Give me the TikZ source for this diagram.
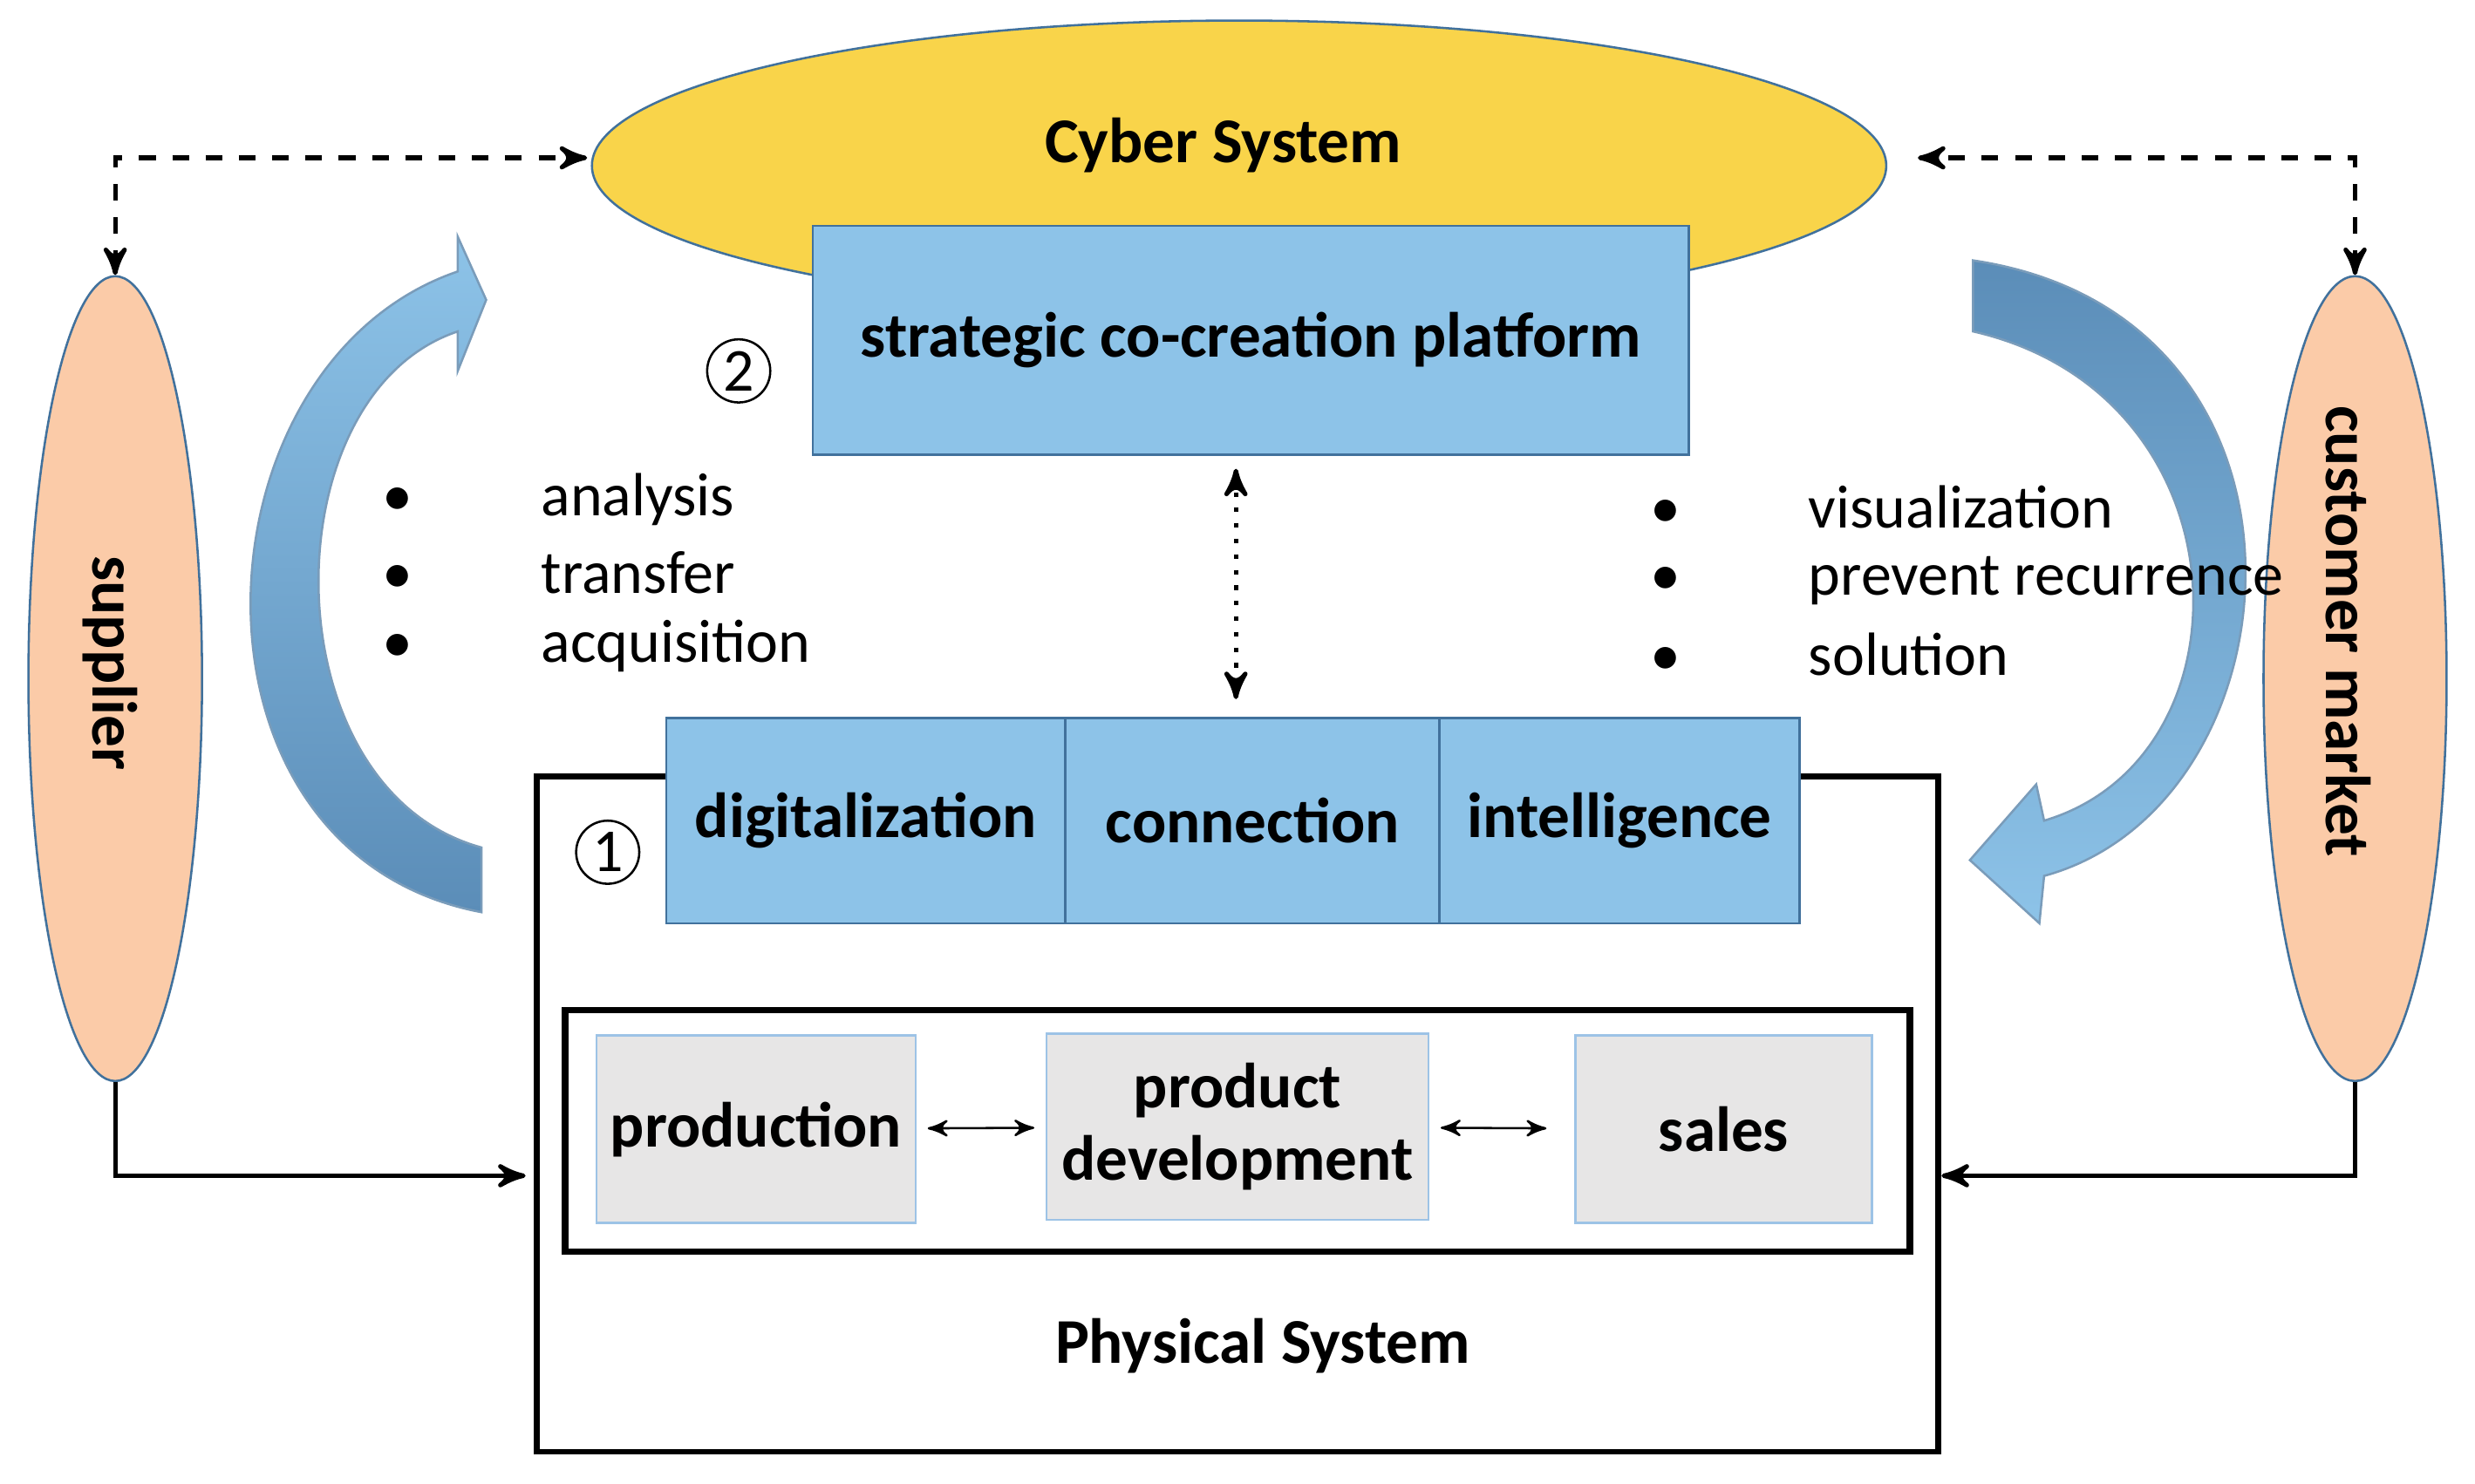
\documentclass[tikz,border=0pt]{standalone}
\usepackage{fontspec}
\setmainfont{Carlito}
\usetikzlibrary{arrows,shapes.geometric}
\definecolor{cyberyellow}{HTML}{F9D44A}
\definecolor{boxblue}{HTML}{8DC3E8}
\definecolor{edgeblue}{HTML}{41719C}
\definecolor{peach}{HTML}{FBCBA8}
\definecolor{greybox}{HTML}{E7E6E6}
\definecolor{lightedge}{HTML}{9DC3E6}
\definecolor{arrowdark}{HTML}{5B8DB8}
\begin{document}
\begin{tikzpicture}[x=1cm,y=1cm,>=stealth',
  big label/.style={font=\fontsize{11.5}{13}\selectfont\bfseries},
  blue box/.style={draw=edgeblue,fill=boxblue,big label,inner sep=0pt},
  grey box/.style={draw=lightedge,fill=greybox,big label,inner sep=0pt,align=center},
  side node/.style={ellipse,draw=edgeblue,fill=peach,inner sep=0pt},
  bullet item/.style={font=\fontsize{11}{13}\selectfont,anchor=west},
  step mark/.style={circle,draw,thin,inner sep=0pt,minimum size=0.40cm,font=\fontsize{11}{12}\selectfont},
  big arrow/.style={draw=edgeblue!70,line width=0.4pt}]
  \useasboundingbox (0,0) rectangle (15.68,-9.40);

  % big curved arrows
  \shade[big arrow,top color=boxblue,bottom color=arrowdark]
    (3.05,-5.78) .. controls (1.05,-5.40) and (1.20,-2.30) .. (2.90,-1.72)
    -- (2.90,-1.50) -- (3.08,-1.90) -- (2.90,-2.35) -- (2.90,-2.10)
    .. controls (1.70,-2.50) and (1.70,-5.00) .. (3.05,-5.37) -- cycle;
  \shade[big arrow,top color=arrowdark,bottom color=boxblue]
    (12.50,-1.65) .. controls (14.85,-2.00) and (14.60,-5.10) .. (12.95,-5.55)
    -- (12.92,-5.85) -- (12.48,-5.45) -- (12.90,-4.97) -- (12.95,-5.20)
    .. controls (14.30,-4.80) and (14.25,-2.50) .. (12.50,-2.10) -- cycle;

  % cyber system
  \node[ellipse,draw=edgeblue,fill=cyberyellow,minimum width=8.2cm,minimum height=1.84cm] (cyber) at (7.85,-1.05) {};
  \node[big label] (cybertext) at (7.75,-0.92) {Cyber System};
  \node[blue box,minimum width=5.55cm,minimum height=1.45cm] (platform) at (7.925,-2.155) {strategic co-creation platform};
  \node[step mark] (two) at (4.68,-2.35) {2};

  % side actors
  \node[side node,minimum width=1.10cm,minimum height=5.10cm] (supplier) at (0.73,-4.30) {};
  \node[big label,rotate=-90] at (0.70,-4.20) {supplier};
  \node[side node,minimum width=1.16cm,minimum height=5.10cm] (market) at (14.92,-4.30) {};
  \node[big label,rotate=-90] at (14.88,-4.00) {customer market};

  % physical system
  \node[draw,line width=1pt,minimum width=8.88cm,minimum height=4.28cm] (physical) at (7.84,-7.06) {};
  \node[big label] (phystext) at (8.00,-8.53) {Physical System};
  \node[blue box,minimum width=2.53cm,minimum height=1.30cm] (digi) at (5.485,-5.20) {digitalization};
  \node[blue box,minimum width=2.37cm,minimum height=1.30cm] (conn) at (7.935,-5.20) {connection};
  \node[blue box,minimum width=2.28cm,minimum height=1.30cm] (intel) at (10.26,-5.20) {intelligence};
  \node[step mark] (one) at (3.85,-5.40) {1};
  \node[draw,line width=1.2pt,minimum width=8.52cm,minimum height=1.53cm] (chain) at (7.84,-7.165) {};
  \node[grey box,minimum width=2.02cm,minimum height=1.19cm] (prod) at (4.79,-7.155) {production};
  \node[grey box,minimum width=2.42cm,minimum height=1.18cm] (dev) at (7.84,-7.14) {product\\development};
  \node[grey box,minimum width=1.88cm,minimum height=1.19cm] (sales) at (10.92,-7.155) {sales};
  \draw[<->,shorten <=2pt,shorten >=2pt] (prod) -- (dev);
  \draw[<->,shorten <=2pt,shorten >=5pt] (dev) -- (sales);
  \draw[<->,dotted,thick] (7.83,-2.97) -- (7.83,-4.43);

  % bullets
  \foreach \t [count=\i] in {analysis,transfer,acquisition}
    \node[bullet item] at (2.30,-2.70-0.465*\i) {\textbullet\hspace{2.1em}\t};
  \foreach \t [count=\i] in {visualization,prevent recurrence,solution}
    \node[bullet item] at (10.33,-2.75-0.465*\i) {\textbullet\hspace{2.1em}\t};

  % connectors
  \coordinate (dl) at (3.72,-1.00);
  \coordinate (dr) at (12.15,-1.00);
  \draw[<->,dashed,thick] (supplier.north) |- (dl);
  \draw[<->,dashed,thick] (market.north) |- (dr);
  \draw[->,thick] (supplier.south) |- (3.33,-7.45);
  \draw[->,thick] (market.south) |- (12.30,-7.45);
\end{tikzpicture}
\end{document}
